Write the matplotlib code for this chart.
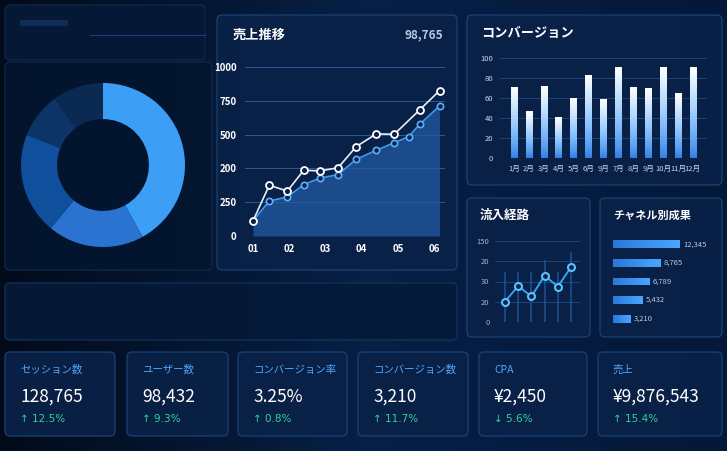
import numpy as np
import matplotlib
matplotlib.use("Agg")
import matplotlib.pyplot as plt
from matplotlib.patches import FancyBboxPatch
from matplotlib.colors import LinearSegmentedColormap

plt.rcParams['font.family'] = ['Noto Sans CJK JP', 'DejaVu Sans']

# ---- data ----
donut_shares = [42, 19, 20, 9, 10]
donut_colors = ['#3d9ef5', '#2a73d0', '#0f4f9c', '#0d3466', '#0a2a52']

sales_x_white = [1.0, 1.45, 1.95, 2.4, 2.85, 3.35, 3.85, 4.4, 4.9, 5.6, 6.15]
sales_white = [89, 300, 266, 389, 385, 404, 529, 604, 602, 746, 860]
sales_x_blue = [1.0, 1.45, 1.95, 2.4, 2.85, 3.35, 3.85, 4.4, 4.9, 5.3, 5.6, 6.15]
sales_blue = [89, 207, 231, 304, 343, 363, 454, 507, 552, 588, 661, 769]
sales_xticks = [1, 2, 3, 4, 5, 6]
sales_xlabels = ['01', '02', '03', '04', '05', '06']
sales_yticks = [0, 200, 400, 600, 800, 1000]
sales_ylabels = ['0', '250', '200', '500', '750', '1000']

conv_labels = ['1月', '2月', '3月', '4月', '5月', '6月', '9月', '7月', '8月', '9月', '10月', '11月', '12月']
conv_values = [71, 47, 72, 41, 60, 83, 59, 91, 71, 70, 91, 65, 91]
conv_yticks = [0, 20, 40, 60, 80, 100]

flow_values = [10.1, 17.8, 12.6, 22.9, 17.5, 27.1]
flow_yticks = [0, 10, 20, 30, 40]
flow_ylabels = ['0', '20', '30', '20', '150']

chan_values = [12345, 8765, 6789, 5432, 3210]
chan_labels = ['12,345', '8,765', '6,789', '5,432', '3,210']

kpi_titles = ['セッション数', 'ユーザー数', 'コンバージョン率', 'コンバージョン数', 'CPA', '売上']
kpi_values = ['128,765', '98,432', '3.25%', '3,210', '¥2,450', '¥9,876,543']
kpi_changes = ['↑ 12.5%', '↑ 9.3%', '↑ 0.8%', '↑ 11.7%', '↓ 5.6%', '↑ 15.4%']

W, H = 727, 451
fig = plt.figure(figsize=(W / 100, H / 100), dpi=100)
fig.patch.set_facecolor('#031126')

bg = fig.add_axes([0, 0, 1, 1])
bg.set_xlim(0, W); bg.set_ylim(H, 0); bg.axis('off')
grad = np.linspace(0, 1, 256).reshape(1, -1)
bg.imshow(np.vstack([grad]*2), extent=[0, W, H, 0], aspect='auto',
          cmap=LinearSegmentedColormap.from_list('b', ['#020b1a', '#062046', '#04183a']), zorder=0)

def panel(x, y, w, h, fc='#0a2248', ec='#1b4679', alpha=0.9):
    bg.add_patch(FancyBboxPatch((x, y), w, h, boxstyle='round,pad=0,rounding_size=5',
                                fc=fc, ec=ec, lw=0.9, alpha=alpha, zorder=1))

panel(5, 5, 200, 55, fc='#061a38', ec='#0f2c52')
panel(5, 62, 207, 208, fc='#041530', ec='#0f2c52')
panel(217, 15, 240, 255)
panel(467, 15, 255, 170)
panel(467, 198, 123, 139)
panel(600, 198, 122, 139)
panel(5, 283, 452, 57, fc='#061a38', ec='#14355f')
bg.plot([90, 205], [35, 35], color='#1a4a85', lw=0.6, zorder=2)
bg.add_patch(FancyBboxPatch((20, 20), 48, 6, boxstyle='round,pad=0,rounding_size=2', fc='#0e2d58', ec='none', zorder=2))

def axes_px(x, y, w, h):
    a = fig.add_axes([x / W, 1 - (y + h) / H, w / W, h / H])
    a.set_facecolor('none')
    for s in a.spines.values():
        s.set_visible(False)
    return a

# ---- donut ----
ad = axes_px(21, 83, 164, 164)
ad.pie(donut_shares, colors=donut_colors, startangle=90, counterclock=False,
       wedgeprops=dict(width=0.44, edgecolor='none'))
ad.set_xlim(-1, 1); ad.set_ylim(-1, 1); ad.set_aspect('equal')

# ---- sales trend ----
bg.text(233, 35, '売上推移', color='white', fontsize=9.5, fontweight='bold', va='center', zorder=5)
bg.text(455 - 12, 35, '98,765', color='#b8c8e0', fontsize=8.5, fontweight='bold', va='center', ha='right', zorder=5)
a = axes_px(245, 67, 200, 169)
a.set_xlim(0.78, 6.3); a.set_ylim(0, 1000)
a.fill_between(sales_x_blue, sales_blue, 0, color='#2d6fc4', alpha=0.55, lw=0)
a.plot(sales_x_blue, sales_blue, color='#3c9cf0', lw=1.2, marker='o', ms=4.5, mfc='#0a2248', mec='#5ab0ff', mew=1.2, clip_on=False)
a.plot(sales_x_white, sales_white, color='#e6eefa', lw=1.2, marker='o', ms=5, mfc='#0a2248', mec='white', mew=1.3, clip_on=False)
a.set_yticks(sales_yticks); a.set_yticklabels(sales_ylabels)
a.set_xticks(sales_xticks); a.set_xticklabels(sales_xlabels)
a.grid(axis='y', color='#2a5a96', lw=0.7)
a.tick_params(colors='white', labelsize=7, length=0, pad=6)
for t in a.get_xticklabels() + a.get_yticklabels():
    t.set_fontweight('bold')

# ---- conversion ----
bg.text(481, 33, 'コンバージョン', color='white', fontsize=9.5, fontweight='bold', va='center', zorder=5)
a = axes_px(500, 58, 207, 100)
n = len(conv_values)
a.set_xlim(-0.95, n - 0.05); a.set_ylim(0, 100)
cmap = LinearSegmentedColormap.from_list('c', ['#2f7fe6', '#8cc4ff', '#ffffff'])
bars = a.bar(range(n), conv_values, width=0.45, color='none')
for i, b in enumerate(bars):
    im = a.imshow(np.linspace(0, 1, 100).reshape(-1, 1) ** 0.8, origin='lower', cmap=cmap,
                  extent=[i - 0.23, i + 0.23, 0, conv_values[i]], aspect='auto', zorder=3)
    im.set_clip_path(b)
a.set_xlim(-0.95, n - 0.05); a.set_ylim(0, 100)
a.set_xticks(range(n)); a.set_xticklabels(conv_labels)
a.set_yticks(conv_yticks)
a.grid(axis='y', color='#1d4a80', lw=0.6); a.set_axisbelow(True)
a.tick_params(colors='#c8d6ea', labelsize=5.5, length=0, pad=5)

# ---- flow ----
bg.text(480, 215, '流入経路', color='white', fontsize=9, fontweight='bold', va='center', zorder=5)
a = axes_px(495, 241, 85, 81)
xs = np.arange(len(flow_values))
a.set_xlim(-0.76, 5.68); a.set_ylim(0, 40)
for x in [0, 1, 2, 3, 4, 5]:
    a.plot([x, x], [0, 34 if x == 5 else 30 if x == 3 else 24], color='#1f5aa0', lw=1.2, alpha=0.8)
a.plot(xs, flow_values, color='#3aa8ff', lw=1.3, marker='o', ms=5, mfc='#0a2248', mec='#5cc0ff', mew=1.5, zorder=4)
a.set_yticks(flow_yticks); a.set_yticklabels(flow_ylabels)
a.set_xticks([])
a.grid(axis='y', color='#1d4a80', lw=0.6)
a.tick_params(colors='#9fb4d2', labelsize=5.5, length=0, pad=4)

# ---- channel ----
bg.text(613, 215, 'チャネル別成果', color='white', fontsize=8, fontweight='bold', va='center', zorder=5)
a = axes_px(613, 235, 100, 93)
a.set_xlim(0, 12345 * 100 / 67); a.set_ylim(len(chan_values) - 0.5, -0.5)
cb = a.barh(range(len(chan_values)), chan_values, height=0.42, color='none')
cm2 = LinearSegmentedColormap.from_list('h', ['#2a78dc', '#4aa6ff'])
for i, b in enumerate(cb):
    im = a.imshow(np.linspace(0, 1, 100).reshape(1, -1), cmap=cm2,
                  extent=[0, chan_values[i], i + 0.21, i - 0.21], aspect='auto', zorder=3)
    im.set_clip_path(b)
    a.text(chan_values[i] + 600, i, chan_labels[i], color='#b8c8e0', fontsize=5.5, va='center')
a.set_xlim(0, 12345 * 100 / 67); a.set_ylim(len(chan_values) - 0.5, -0.5)
a.set_xticks([]); a.set_yticks([])

# ---- KPI cards ----
cards = [(5, 110), (127, 101), (238, 109), (358, 110), (479, 108), (598, 124)]
for (x, w), t, v, c in zip(cards, kpi_titles, kpi_values, kpi_changes):
    panel(x, 352, w, 84, fc='#0a2248', ec='#1b4679')
    bg.text(x + 15, 370, t, color='#4ea6ff', fontsize=7.5, va='center', zorder=5)
    bg.text(x + 15, 397, v, color='white', fontsize=12.5, va='center', zorder=5)
    bg.text(x + 15, 419, c, color='#2fd39a', fontsize=7.5, va='center', zorder=5,
            family=['DejaVu Sans'])

fig.savefig('out.png', dpi=100, facecolor=fig.get_facecolor())
